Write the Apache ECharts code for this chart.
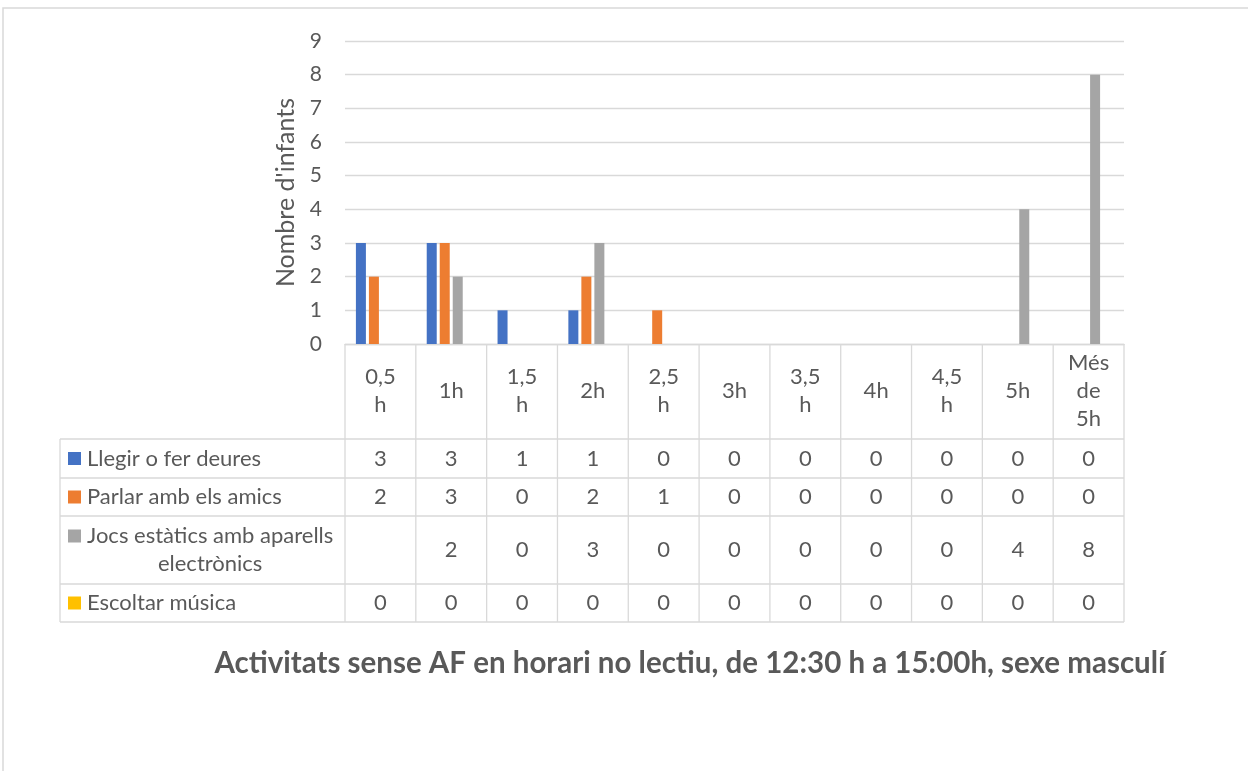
<!DOCTYPE html>
<html>
<head>
<meta charset="utf-8">
<script src="https://cdn.jsdelivr.net/npm/echarts@6/dist/echarts.min.js"></script>
<style>
  html, body { margin: 0; padding: 0; background: #ffffff; }
  #chart { width: 1248px; height: 771px; }
</style>
</head>
<body>
<div id="chart"></div>
<script>
// Time spent on non-physical activities, 12:30 h to 15:00 h, boys
const categories = ['0,5\nh', '1h', '1,5\nh', '2h', '2,5\nh', '3h', '3,5\nh', '4h', '4,5\nh', '5h', 'Més\nde\n5h'];

const seriesNames = [
  'Llegir o fer deures',
  'Parlar amb els amics',
  'Jocs estàtics amb aparells\nelectrònics',
  'Escoltar música'
];

const llegir   = [3, 3, 1, 1, 0, 0, 0, 0, 0, 0, 0];
const parlar   = [2, 3, 0, 2, 1, 0, 0, 0, 0, 0, 0];
const jocs     = [null, 2, 0, 3, 0, 0, 0, 0, 0, 4, 8];
const escoltar = [0, 0, 0, 0, 0, 0, 0, 0, 0, 0, 0];

const seriesColors = ['#4472C4', '#ED7D31', '#A5A5A5', '#FFC000'];

const yMin = 0;
const yMax = 9;
const yStep = 1;

const titleText = 'Activitats sense AF en horari no lectiu, de 12:30 h a 15:00h, sexe masculí';
const yAxisName = "Nombre d'infants";

// ---- styling ----
const FONT = 'Lato, "Liberation Sans", sans-serif';
const TEXT = '#595959';
const RULE = '#d9d9d9';
const TABLE_FONT_SIZE = 22;
const LINE_H = 28;

const seriesData = [llegir, parlar, jocs, escoltar];

const chart = echarts.init(document.getElementById('chart'), null, { renderer: 'canvas' });

chart.setOption({
  animation: false,
  backgroundColor: '#ffffff',
  textStyle: { fontFamily: FONT },
  title: {
    text: titleText,
    left: 685,
    top: 643,
    textAlign: 'center',
    textStyle: { fontFamily: FONT, fontSize: 29.5, fontWeight: 'bold', color: TEXT }
  },
  grid: { left: 345, right: 124, top: 41, bottom: 427, containLabel: false },
  xAxis: {
    type: 'category',
    data: categories,
    boundaryGap: true,
    axisLine: { show: true, lineStyle: { color: RULE, width: 1.3 } },
    axisTick: { show: false },
    axisLabel: {
      interval: 0,
      margin: 47,
      verticalAlign: 'middle',
      color: TEXT,
      fontFamily: FONT,
      fontSize: TABLE_FONT_SIZE,
      lineHeight: LINE_H
    },
    splitLine: { show: false }
  },
  yAxis: {
    type: 'value',
    min: yMin,
    max: yMax,
    interval: yStep,
    name: yAxisName,
    nameLocation: 'middle',
    nameGap: 47,
    nameTextStyle: { color: TEXT, fontFamily: FONT, fontSize: 25 },
    axisLine: { show: false },
    axisTick: { show: false },
    axisLabel: { color: TEXT, fontFamily: FONT, fontSize: 21, margin: 23 },
    splitLine: { show: true, lineStyle: { color: RULE, width: 1.3 } }
  },
  series: seriesNames.map((name, i) => ({
    name: name,
    type: 'bar',
    data: seriesData[i],
    barWidth: 10,
    barGap: '30%',
    itemStyle: { color: seriesColors[i] }
  }))
});

// ---- data table under the plot, laid out from the category axis ----
function measure(text, font) {
  const ctx = document.createElement('canvas').getContext('2d');
  ctx.font = font;
  return ctx.measureText(text).width;
}

function buildTable() {
  const c0 = chart.convertToPixel({ xAxisIndex: 0 }, 0);
  const c1 = chart.convertToPixel({ xAxisIndex: 0 }, 1);
  const band = c1 - c0;
  const plotLeft = c0 - band / 2;
  const plotRight = plotLeft + band * categories.length;
  const baseY = chart.convertToPixel({ yAxisIndex: 0 }, 0);

  const headerH = 95;
  const rowHeights = [39, 38, 68, 38];
  const labelLeft = 60;
  const keyX = 68;
  const keySize = 13;
  const labelTextX = 87;

  const els = [];
  const line = (x1, y1, x2, y2) => els.push({
    type: 'line', silent: true,
    shape: { x1, y1, x2, y2 },
    style: { stroke: RULE, lineWidth: 1.3 }
  });
  const text = (x, y, t, align) => els.push({
    type: 'text', silent: true, x, y,
    style: {
      text: t, fill: TEXT, align: align || 'center', verticalAlign: 'middle',
      font: TABLE_FONT_SIZE + 'px ' + FONT, lineHeight: LINE_H
    }
  });

  // outer frame of the chart area
  els.push({
    type: 'rect', silent: true,
    shape: { x: 3, y: 8, width: 1300, height: 800 },
    style: { fill: 'none', stroke: RULE, lineWidth: 1.5 }
  });

  const headerBottom = baseY + headerH;
  const rowTops = [headerBottom];
  rowHeights.forEach((h, i) => rowTops.push(rowTops[i] + h));
  const tableBottom = rowTops[rowTops.length - 1];

  // column separators
  for (let k = 0; k <= categories.length; k++) {
    const x = plotLeft + band * k;
    line(x, baseY, x, tableBottom);
  }
  // horizontal rules
  rowTops.forEach(y => line(labelLeft, y, plotRight, y));
  line(labelLeft, headerBottom, labelLeft, tableBottom);

  // rows: legend key, series name, values
  seriesNames.forEach((name, r) => {
    const top = rowTops[r];
    const mid = top + rowHeights[r] / 2;
    const lines = name.split('\n');
    const firstLineY = mid - (lines.length - 1) * LINE_H / 2;
    els.push({
      type: 'rect', silent: true,
      shape: { x: keyX, y: firstLineY - keySize / 2, width: keySize, height: keySize },
      style: { fill: seriesColors[r] }
    });
    if (lines.length > 1) {
      const w = Math.max(...lines.map(l => measure(l, TABLE_FONT_SIZE + 'px ' + FONT)));
      text(labelTextX + w / 2, mid, name, 'center');
    } else {
      text(labelTextX, mid, name, 'left');
    }
    seriesData[r].forEach((v, i) => {
      const cx = chart.convertToPixel({ xAxisIndex: 0 }, i);
      text(cx, mid, v === null ? '' : String(v));
    });
  });

  chart.setOption({ graphic: { elements: els } });
}

buildTable();
</script>
</body>
</html>
